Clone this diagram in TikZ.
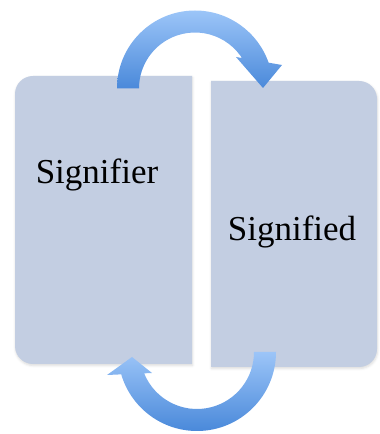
\documentclass[tikz,border=0pt]{standalone}
\usepackage{fontspec}
\setmainfont{Liberation Serif}
\usetikzlibrary{calc,shadows.blur}

\definecolor{panelfill}{HTML}{C3CEE2}
\definecolor{arrowlight}{HTML}{9CC5F8}
\definecolor{arrowdark}{HTML}{4A89DA}

\tikzset{
  panel/.style={fill=panelfill,
    blur shadow={shadow xshift=0.5pt,shadow yshift=-1.5pt,shadow blur radius=2.5pt,shadow opacity=15}},
  bend arrow/.style={top color=arrowlight,bottom color=arrowdark},
  word/.style={font=\fontsize{35}{40}\selectfont,text=black,inner sep=0pt}
}

\begin{document}
\begin{tikzpicture}[x=1pt,y=1pt]
\useasboundingbox (0,0) rectangle (380,434);

% left panel: rounded on the outer (left) side only
\path[panel] (192,70) -- (33,70) arc[start angle=270,end angle=180,radius=18pt]
  -- (15,340) arc[start angle=180,end angle=90,radius=18pt] -- (192,358) -- cycle;
% right panel: rounded on the outer (right) side only
\path[panel] (211,67) -- (359,67) arc[start angle=-90,end angle=0,radius=18pt]
  -- (377,335) arc[start angle=0,end angle=90,radius=18pt] -- (211,353) -- cycle;

\node[word] (signifier) at (97,259) {Signifier};
\node[word] (signified) at (292,202) {Signified};

% upper curved arrow: from the left panel over to the right panel
\coordinate (topc) at (195,345.5);
\shade[bend arrow]
  ($(topc)+(180:78)$) arc[start angle=180,end angle=19,radius=78pt]
  -- ($(topc)+(19:56)$) arc[start angle=19,end angle=180,radius=56pt] -- cycle
  (282,369) -- (263,346) -- (236,377) -- cycle;

% lower curved arrow: from the right panel back under to the left panel
\coordinate (botc) at (197,82);
\shade[bend arrow]
  ($(botc)+(0:79)$) arc[start angle=0,end angle=-165,radius=79pt]
  -- ($(botc)+(-165:57)$) arc[start angle=-165,end angle=0,radius=57pt] -- cycle
  (107,59) -- (132,77) -- (152,61) -- cycle;
\end{tikzpicture}
\end{document}
